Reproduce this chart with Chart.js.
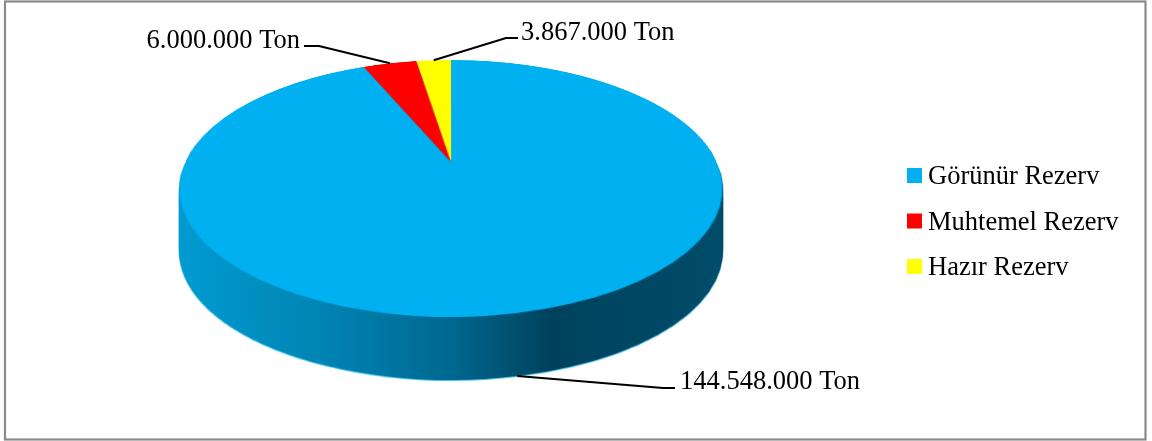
<!DOCTYPE html>
<html><head><meta charset="utf-8">
<script src="https://cdn.jsdelivr.net/npm/chart.js@4"></script>
<style>html,body{margin:0;padding:0;background:#fff;}canvas{display:block}</style>
</head><body>
<canvas id="c" width="1152" height="441"></canvas>
<script>
const categories = ['Görünür Rezerv', 'Muhtemel Rezerv', 'Hazır Rezerv'];
const values = [144548000, 6000000, 3867000];
const colors = ['#00B0F0', '#FF0000', '#FFFF00'];
const unit = 'Ton';

// perspective projection of the pie disk: x = cx + a*u/(1-k*v), y = cy + b*v/(1-k*v)
const P = {cx: 451, cy: 162, a: 265.7, b: 123, k: 0.206, depth: 63};
const FONT = '26.5px "Liberation Serif", "Times New Roman", serif';
// label layout: [elbowX, elbowY, endX, endY, textX, textY, align, onBottomRim]
const LABEL_LAYOUT = [
  [663, 388, 675, 388, 680, 389, 'left', true],
  [319, 46, 304, 46, 300, 48, 'right', false],
  [506, 38, 518, 38, 521, 40, 'left', false]
];

function fmt(v) { return String(v).replace(/\B(?=(\d{3})+(?!\d))/g, '.') + ' ' + unit; }
function proj(u, v) { const w = 1 - P.k * v; return {x: P.cx + P.a * u / w, y: P.cy + P.b * v / w}; }

const pie3d = {
  id: 'pie3d',
  afterDatasetsDraw(chart) {
    const ctx = chart.ctx, canvas = chart.canvas;
    const W = canvas.width, H = canvas.height;
    const meta = chart.getDatasetMeta(0);
    const a0 = meta.data[0];
    const sx = a0.x, sy = a0.y, R = a0.outerRadius;
    // copy the flat pie drawn by Chart.js
    const off = document.createElement('canvas'); off.width = W; off.height = H;
    off.getContext('2d').drawImage(canvas, 0, 0);
    ctx.save();
    ctx.setTransform(1, 0, 0, 1, 0, 0);
    ctx.clearRect(0, 0, W, H);
    // warped top face
    const top = document.createElement('canvas'); top.width = W; top.height = H;
    const tctx = top.getContext('2d');
    const yTop = proj(0, -1).y, yBot = proj(0, 1).y;
    for (let y = Math.floor(yTop) - 1; y < Math.ceil(yBot) + 1; y++) {
      const t0 = y - P.cy, t1 = y + 1 - P.cy;
      let v0 = t0 / (P.b + P.k * t0), v1 = t1 / (P.b + P.k * t1);
      v0 = Math.max(-1, Math.min(1, v0)); v1 = Math.max(-1, Math.min(1, v1));
      if (v1 <= v0) continue;
      const vm = (v0 + v1) / 2, hw = P.a / (1 - P.k * vm);
      tctx.drawImage(off, sx - R, sy + R * v0, 2 * R, R * (v1 - v0), P.cx - hw, y, 2 * hw, 1);
    }
    // side (extrusion)
    const side = document.createElement('canvas'); side.width = W; side.height = H;
    const sctx = side.getContext('2d');
    for (let d = P.depth; d >= 1; d--) sctx.drawImage(top, 0, d);
    sctx.globalCompositeOperation = 'source-in';
    const x0 = P.cx - P.a / Math.sqrt(1 - P.k * P.k), x1 = P.cx + P.a / Math.sqrt(1 - P.k * P.k);
    const g = sctx.createLinearGradient(x0, 0, x1, 0);
    g.addColorStop(0, '#009BD0');
    g.addColorStop(0.25, '#0085B5');
    g.addColorStop(0.5, '#006890');
    g.addColorStop(0.68, '#00425D');
    g.addColorStop(1, '#004C6A');
    sctx.fillStyle = g;
    sctx.fillRect(0, 0, W, H);
    // light rim under the side
    const rim = document.createElement('canvas'); rim.width = W; rim.height = H;
    const rctx = rim.getContext('2d');
    rctx.drawImage(top, 0, P.depth + 1);
    rctx.globalCompositeOperation = 'source-in';
    rctx.fillStyle = '#4CC6F0';
    rctx.fillRect(0, 0, W, H);
    ctx.drawImage(rim, 0, 0);
    ctx.drawImage(side, 0, 0);
    ctx.drawImage(top, 0, 0);
    // frame
    ctx.strokeStyle = '#8a8a8a';
    ctx.lineWidth = 2.2;
    ctx.strokeRect(5, 1.5, 1140.5, 438);
    // labels with leader lines
    ctx.font = FONT;
    ctx.fillStyle = '#000';
    ctx.strokeStyle = '#000';
    ctx.lineWidth = 2;
    meta.data.forEach((arc, i) => {
      const L = LABEL_LAYOUT[i];
      const mid = (arc.startAngle + arc.endAngle) / 2;
      const p = proj(Math.cos(mid), Math.sin(mid));
      const ay = p.y + (L[7] ? P.depth : 0);
      ctx.beginPath();
      ctx.moveTo(p.x, ay);
      ctx.lineTo(L[0], L[1]);
      ctx.lineTo(L[2], L[3]);
      ctx.stroke();
      ctx.textAlign = L[6];
      ctx.textBaseline = 'alphabetic';
      ctx.fillText(fmt(values[i]), L[4], L[5]);
    });
    // legend
    ctx.textAlign = 'left';
    categories.forEach((c, i) => {
      const y = 168 + i * 45.5;
      ctx.fillStyle = colors[i];
      ctx.fillRect(907, y, 15, 15);
      ctx.fillStyle = '#000';
      ctx.fillText(c, 928, y + 16);
    });
    ctx.restore();
  }
};

new Chart(document.getElementById('c'), {
  type: 'pie',
  data: {
    labels: categories,
    datasets: [{data: values, backgroundColor: colors, borderWidth: 0, clip: false}]
  },
  options: {
    responsive: false,
    animation: false,
    layout: {padding: 10},
    plugins: {legend: {display: false}, tooltip: {enabled: false}}
  },
  plugins: [pie3d]
});
</script>
</body></html>
